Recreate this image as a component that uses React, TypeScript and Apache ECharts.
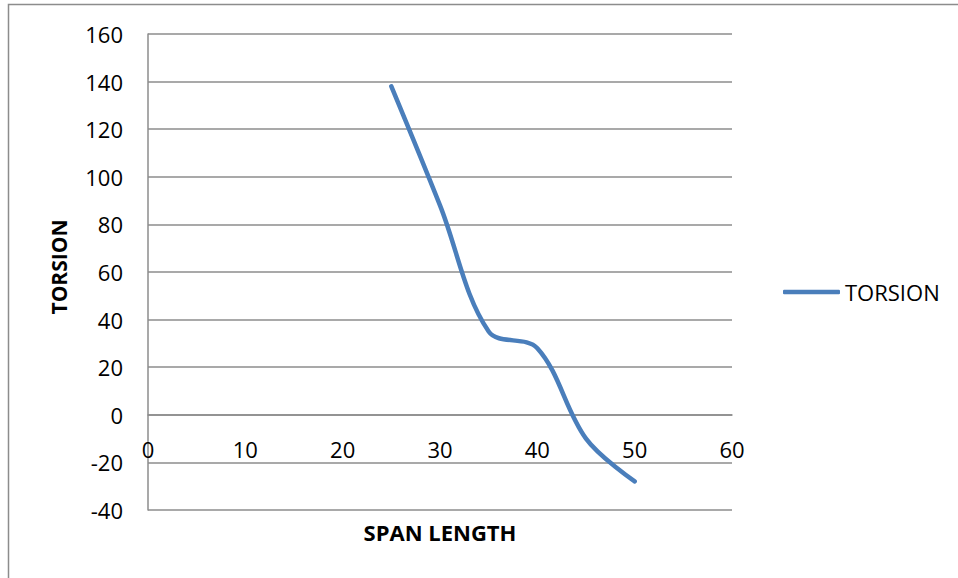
import React, { useEffect, useRef } from "react";
import * as echarts from "echarts";

// Span length (x) against torsion (y)
const spanLength = [25, 30, 35, 40, 45, 50];
const torsion = [138, 88, 35, 28, -10, -28];
const seriesName = "TORSION";
const xTitle = "SPAN LENGTH";
const yTitle = "TORSION";
const X_MIN = 0;
const X_MAX = 60;
const Y_MIN = -40;
const Y_MAX = 160;

const FONT = "'Open Sans', 'Liberation Sans', sans-serif";
const GREY = "#8c8c8c";
const BLUE = "#4a7ebb";

// plot rectangle inside the 958x578 canvas
const GRID = { left: 148, right: 226, top: 34, bottom: 68 };
const PLOT_H = 578 - GRID.top - GRID.bottom;
// lift the x axis from the bottom edge up to the y = 0 line
const X_AXIS_OFFSET = -((0 - Y_MIN) / (Y_MAX - Y_MIN)) * PLOT_H;

export default function App() {
  const ref = useRef<HTMLDivElement>(null);

  useEffect(() => {
    if (!ref.current) return;
    const chart = echarts.init(ref.current, undefined, { renderer: "svg" });
    const points = spanLength.map((x, i) => [x, torsion[i]]);

    chart.setOption({
      animation: false,
      backgroundColor: "#ffffff",
      textStyle: { fontFamily: FONT },
      grid: { ...GRID, containLabel: false },
      legend: {
        data: [{ name: seriesName, icon: "roundRect" }],
        left: 783,
        top: 281,
        padding: 0,
        itemWidth: 57,
        itemHeight: 4.5,
        itemStyle: { color: BLUE },
        textStyle: { fontFamily: FONT, fontSize: 22, color: "#000000", padding: [0, 0, 0, 0] },
      },
      xAxis: {
        type: "value",
        min: X_MIN,
        max: X_MAX,
        interval: 10,
        offset: X_AXIS_OFFSET,
        axisLine: { show: true, onZero: false, lineStyle: { color: GREY, width: 1.5 } },
        axisTick: { show: false },
        splitLine: { show: false },
        axisLabel: { margin: 23, fontSize: 22, color: "#000000", fontFamily: FONT },
      },
      yAxis: {
        type: "value",
        min: Y_MIN,
        max: Y_MAX,
        interval: 20,
        axisLine: { show: true, onZero: false, lineStyle: { color: GREY, width: 1.5 } },
        axisTick: { show: false },
        splitLine: { show: true, lineStyle: { color: GREY, width: 1.5 } },
        axisLabel: { margin: 25, fontSize: 22, color: "#000000", fontFamily: FONT },
      },
      series: [
        {
          name: seriesName,
          type: "line",
          data: points,
          smooth: 0.35,
          showSymbol: false,
          symbol: "none",
          lineStyle: { color: BLUE, width: 4.5, cap: "round", join: "round" },
          itemStyle: { color: BLUE },
        },
      ],
      graphic: [
        {
          type: "rect",
          silent: true,
          shape: { x: 8.5, y: 4.5, width: 1200, height: 1200 },
          style: { fill: "none", stroke: GREY, lineWidth: 1.5 },
        },
        {
          type: "text",
          x: 440,
          y: 532,
          style: {
            text: xTitle,
            fontFamily: FONT,
            fontWeight: "bold",
            fontSize: 22,
            fill: "#000000",
            align: "center",
            verticalAlign: "middle",
          },
        },
        {
          type: "text",
          x: 59,
          y: 267,
          rotation: Math.PI / 2,
          style: {
            text: yTitle,
            fontFamily: FONT,
            fontWeight: "bold",
            fontSize: 21,
            fill: "#000000",
            align: "center",
            verticalAlign: "middle",
          },
        },
      ],
    });

    return () => chart.dispose();
  }, []);

  return (
    <div
      ref={ref}
      style={{ position: "fixed", left: 0, top: 0, width: 958, height: 578 }}
    />
  );
}
